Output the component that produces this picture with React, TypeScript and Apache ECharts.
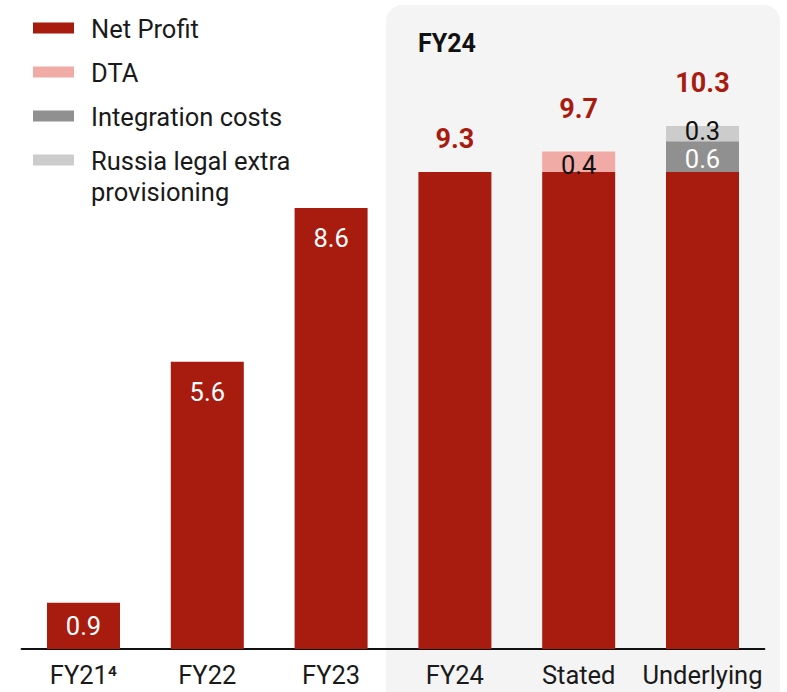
import React, { useEffect, useRef } from "react";
import * as echarts from "echarts";

const categories = ["FY21⁴", "FY22", "FY23", "FY24", "Stated", "Underlying"];
const netProfit = [0.9, 5.6, 8.6, 9.3, 9.3, 9.3];
const dta: (number | string)[] = ["-", "-", "-", "-", 0.4, "-"];
const integration: (number | string)[] = ["-", "-", "-", "-", "-", 0.6];
const russia: (number | string)[] = ["-", "-", "-", "-", "-", 0.3];
const totals: (number | string)[] = ["-", "-", "-", 9.3, 9.7, 10.3];
const legendNames = ["Net Profit", "DTA", "Integration costs", "Russia legal extra\nprovisioning"];

const RED = "#a81c10";
const PINK = "#f0aba6";
const DGRAY = "#909090";
const LGRAY = "#cccccc";
const colors = [RED, PINK, DGRAY, LGRAY];
const FONT = "Roboto";
const FS = 25.5;

export default function App() {
  const ref = useRef<HTMLDivElement>(null);
  useEffect(() => {
    if (!ref.current) return;
    const chart = echarts.init(ref.current, null, { renderer: "svg" });
    const barW = 73;
    const legendEls: any[] = [];
    legendNames.forEach((n, i) => {
      const cy = 28 + i * 44;
      legendEls.push({
        type: "rect",
        shape: { x: 33, y: cy - 5.5, width: 41, height: 11 },
        style: { fill: colors[i] },
      });
      legendEls.push({
        type: "text",
        x: 91,
        y: cy - 15,
        style: {
          text: n,
          fill: "#1a1a1a",
          font: `${FS}px ${FONT}`,
          lineHeight: 31,
          textVerticalAlign: "top",
        },
      });
    });
    const npLabels = netProfit.map((v, i) => {
      if (i === 0) return { value: v, label: { show: true, position: "inside" } };
      if (i < 3) return { value: v, label: { show: true, position: "insideTop", distance: 17 } };
      return { value: v, label: { show: false } };
    });
    const totalData = totals.map((v, i) => {
      if (v === "-") return v;
      const dist = i === 3 ? 20 : i === 4 ? 29 : 24;
      return { value: v, label: { distance: dist } };
    });
    chart.setOption({
      animation: false,
      textStyle: { fontFamily: FONT },
      grid: { left: 21.6, right: 22.6, top: 8, bottom: 43 },
      xAxis: {
        type: "category",
        data: categories,
        axisLine: { lineStyle: { color: "#111", width: 2 } },
        axisTick: { show: false },
        axisLabel: { interval: 0, color: "#1a1a1a", fontSize: FS, margin: 13, fontFamily: FONT },
      },
      yAxis: { type: "value", min: 0, max: 12.5, show: false, splitLine: { show: false } },
      graphic: [
        {
          type: "rect",
          z: -10,
          shape: { x: 386, y: 5, width: 394, height: 700, r: [16, 16, 0, 0] },
          style: { fill: "#f4f4f4" },
        },
        {
          type: "text",
          x: 418,
          y: 43,
          style: {
            text: "FY24",
            fill: "#111",
            font: `bold 25px ${FONT}`,
            textVerticalAlign: "middle",
          },
        },
        ...legendEls,
      ],
      series: [
        {
          name: "Net Profit",
          type: "bar",
          stack: "a",
          barWidth: barW,
          itemStyle: { color: RED },
          label: { color: "#fff", fontSize: FS, fontFamily: FONT },
          data: npLabels,
        },
        {
          name: "DTA",
          type: "bar",
          stack: "a",
          barWidth: barW,
          itemStyle: { color: PINK },
          label: { show: true, position: "inside", offset: [0, 3], color: "#111", fontSize: FS, fontFamily: FONT },
          data: dta,
        },
        {
          name: "Integration costs",
          type: "bar",
          stack: "a",
          barWidth: barW,
          itemStyle: { color: DGRAY },
          label: { show: true, position: "inside", offset: [0, 2], color: "#fff", fontSize: FS, lineHeight: 20, fontFamily: FONT },
          data: integration,
        },
        {
          name: "Russia legal extra provisioning",
          type: "bar",
          stack: "a",
          barWidth: barW,
          itemStyle: { color: LGRAY },
          label: { show: true, position: "inside", offset: [0, -3], color: "#111", fontSize: FS, lineHeight: 18, fontFamily: FONT },
          data: russia,
        },
        {
          name: "Total",
          type: "bar",
          barWidth: barW,
          barGap: "-100%",
          silent: true,
          itemStyle: { color: "rgba(0,0,0,0)" },
          label: {
            show: true,
            position: "top",
            color: RED,
            fontSize: 27,
            fontWeight: "bold",
            fontFamily: FONT,
          },
          data: totalData,
        },
      ],
    });
    return () => chart.dispose();
  }, []);
  return (
    <div
      ref={ref}
      style={{ position: "fixed", left: 0, top: 0, width: 787, height: 692, background: "#fff" }}
    />
  );
}
